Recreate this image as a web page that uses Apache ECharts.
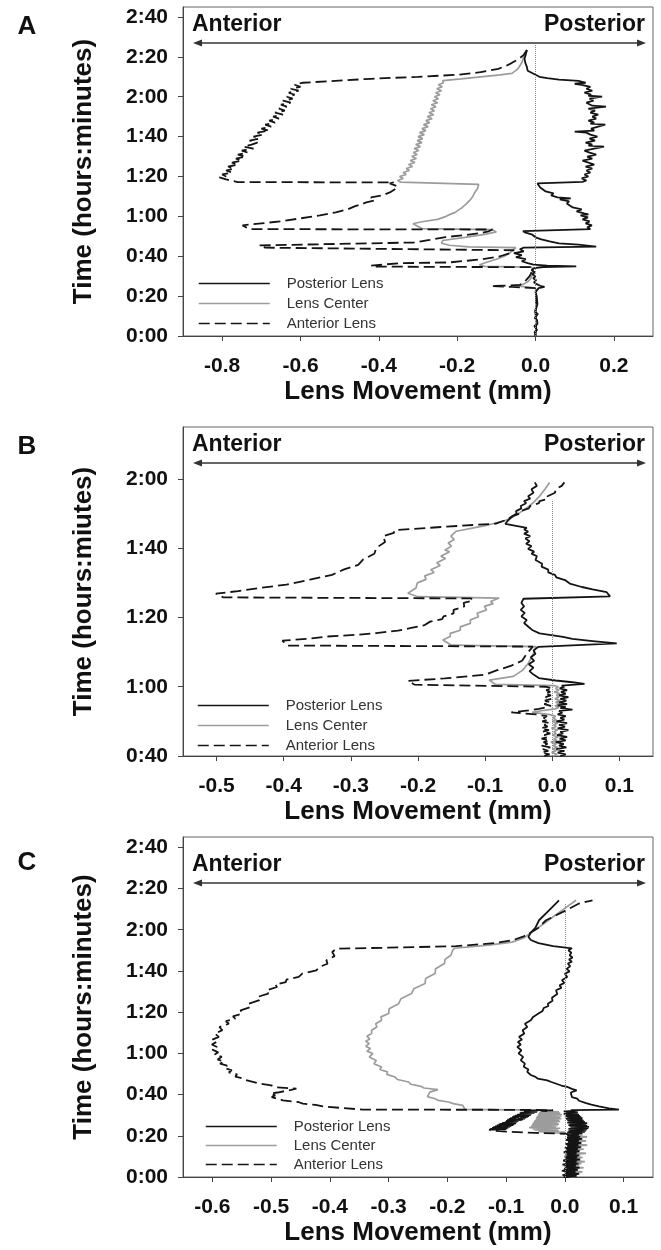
<!DOCTYPE html>
<html>
<head>
<meta charset="utf-8">
<script src="https://cdn.jsdelivr.net/npm/echarts@6/dist/echarts.min.js"></script>
<style>
html,body{margin:0;padding:0;background:#fff;}
#chart{width:661px;height:1250px;}
</style>
</head>
<body>
<div id="chart"></div>
<script>
// ---------- DATA (time in minutes, lens movement in mm) ----------
const seriesNames = ['Posterior Lens', 'Lens Center', 'Anterior Lens'];
const xTicksA = [-0.8, -0.6, -0.4, -0.2, 0, 0.2];
const xTicksB = [-0.5, -0.4, -0.3, -0.2, -0.1, 0, 0.1];
const xTicksC = [-0.6, -0.5, -0.4, -0.3, -0.2, -0.1, 0, 0.1];
const yTicksA = [0, 20, 40, 60, 80, 100, 120, 140, 160];
const yTicksB = [40, 60, 80, 100, 120];
const yTicksC = [0, 20, 40, 60, 80, 100, 120, 140, 160];

// Panel A  [time, movement]
const A_post = [[0,0.000],[1,0.003],[2,-0.002],[3,0.004],[4,0.001],[5,-0.003],[6,0.005],[7,0.000],[8,0.004],[9,-0.002],[10,0.003],[11,0.006],[12,-0.001],[13,0.004],[14,0.002],[15,-0.002],[16,0.005],[17,0.001],[18,0.004],[19,-0.001],[20,0.003],[21,0.005],[22,0.000],[23,0.004],[24,0.008],[24.6,0.023],[25.2,0.012],[26,0.003],[27,-0.004],[28,0.002],[29,-0.006],[30,0.000],[31,-0.008],[32,-0.002],[33,-0.010],[34,-0.004],[34.6,0.020],[34.9,0.104],[35.3,0.030],[35.8,-0.005],[36.5,-0.020],[37.5,-0.035],[38.5,-0.025],[39.5,-0.050],[40.5,-0.035],[41.5,-0.055],[42.5,-0.030],[43.5,-0.040],[44.3,-0.030],[44.8,0.155],[45.3,0.150],[45.8,0.110],[46.5,0.060],[47.4,0.036],[48.5,0.015],[49.5,0.000],[50.8,-0.008],[51.8,-0.025],[52.6,-0.032],[53.3,-0.036],[53.6,0.140],[54.5,0.132],[55.5,0.144],[56.5,0.128],[57.5,0.138],[58.5,0.120],[59.5,0.134],[60.5,0.115],[61,0.135],[61.5,0.124],[62.5,0.105],[63.5,0.118],[64.5,0.095],[65.5,0.100],[66.5,0.080],[67.5,0.086],[68.5,0.062],[69,0.090],[69.5,0.056],[70.5,0.040],[71.5,0.046],[72.5,0.026],[73.5,0.030],[74.5,0.012],[75.5,0.016],[76.5,0.005],[77.0,0.000],[77.3,0.120],[78,0.130],[79,0.118],[80,0.135],[81,0.125],[82,0.140],[83,0.130],[84,0.145],[85,0.128],[86,0.150],[87,0.135],[88,0.120],[89,0.145],[90,0.132],[91,0.155],[92,0.138],[93,0.125],[94,0.150],[95,0.175],[95.5,0.135],[96,0.145],[97,0.128],[98,0.152],[99,0.138],[100,0.158],[101,0.140],[102,0.130],[102.5,0.100],[103,0.150],[104,0.142],[105,0.160],[106,0.178],[106.5,0.140],[107,0.150],[108,0.135],[109,0.155],[110,0.145],[111,0.160],[112,0.140],[113,0.152],[114,0.135],[115,0.180],[115.5,0.145],[116,0.150],[117,0.130],[118,0.148],[119,0.138],[120,0.170],[120.5,0.135],[121,0.142],[122,0.125],[123,0.145],[124,0.130],[125,0.140],[126,0.118],[126.5,0.100],[127,0.128],[128,0.110],[128.6,0.060],[129.3,0.030],[130,0.010],[131,0.000],[132,-0.010],[133,-0.020],[135,-0.022],[137,-0.026],[139,-0.028],[141,-0.025],[143.4,-0.022]];
const A_center = [[0,0.000],[6,0.002],[12,0.000],[18,0.002],[24,0.000],[24.5,-0.020],[25.2,-0.050],[26,-0.030],[27.5,-0.018],[29,-0.012],[31,-0.008],[33,-0.006],[34.5,-0.010],[34.9,-0.130],[35.7,-0.143],[37,-0.125],[38.5,-0.100],[40,-0.080],[41.5,-0.066],[43,-0.058],[44.3,-0.050],[44.7,-0.170],[45.5,-0.220],[46.5,-0.240],[47.9,-0.237],[49.5,-0.180],[51,-0.130],[52.2,-0.100],[53.3,-0.110],[53.6,-0.115],[53.9,-0.290],[56.3,-0.313],[57.3,-0.290],[58.5,-0.250],[60,-0.228],[61,-0.218],[62,-0.205],[63,-0.198],[64,-0.190],[65,-0.185],[66,-0.178],[67,-0.176],[68,-0.168],[69,-0.166],[70,-0.160],[71,-0.158],[72,-0.155],[73,-0.152],[74,-0.148],[75,-0.150],[76,-0.145],[77,-0.148],[77.2,-0.345],[78,-0.352],[79,-0.338],[80,-0.347],[81,-0.330],[82,-0.338],[83,-0.322],[84,-0.330],[85,-0.314],[86,-0.324],[87,-0.308],[88,-0.320],[89,-0.304],[90,-0.316],[91,-0.302],[92,-0.312],[93,-0.298],[94,-0.310],[95,-0.294],[96,-0.306],[97,-0.290],[98,-0.302],[99,-0.288],[100,-0.300],[101,-0.284],[102,-0.296],[103,-0.280],[104,-0.290],[105,-0.274],[106,-0.286],[107,-0.270],[108,-0.280],[109,-0.264],[110,-0.276],[111,-0.260],[112,-0.272],[113,-0.258],[114,-0.268],[115,-0.254],[116,-0.266],[117,-0.250],[118,-0.262],[119,-0.248],[120,-0.258],[121,-0.244],[122,-0.255],[123,-0.240],[124,-0.252],[125,-0.238],[126,-0.248],[127,-0.235],[128.1,-0.237],[129,-0.190],[130,-0.140],[131,-0.090],[131.7,-0.060],[134,-0.045],[137,-0.035],[140,-0.030],[143.4,-0.022]];
const A_ant = [[0,0.000],[6,0.002],[12,0.000],[18,0.002],[24,0.001],[24.6,-0.060],[25.0,-0.113],[25.6,-0.040],[27,-0.030],[28,-0.024],[30,-0.015],[31.5,-0.011],[33,-0.010],[34.5,-0.012],[34.8,-0.410],[35.3,-0.420],[36.5,-0.347],[36.9,-0.220],[38.5,-0.135],[40,-0.090],[41.5,-0.066],[43,-0.055],[44.0,-0.050],[44.3,-0.690],[45.4,-0.705],[46.2,-0.500],[46.9,-0.310],[48.2,-0.270],[49.6,-0.230],[50.6,-0.180],[51.6,-0.140],[52.5,-0.120],[53.4,-0.110],[53.6,-0.730],[55.5,-0.748],[56.5,-0.700],[57.5,-0.650],[59,-0.600],[60.5,-0.550],[62,-0.510],[63.5,-0.480],[65,-0.462],[66,-0.445],[67,-0.432],[68,-0.410],[69.5,-0.420],[70.5,-0.392],[72,-0.372],[73.5,-0.360],[75,-0.352],[76.5,-0.372],[77,-0.362],[77.2,-0.760],[78.5,-0.790],[79.5,-0.807],[80,-0.790],[81,-0.800],[82,-0.775],[83,-0.790],[84,-0.770],[85,-0.785],[86,-0.760],[87,-0.775],[88,-0.750],[89,-0.765],[90,-0.740],[91,-0.760],[92,-0.735],[93,-0.750],[94,-0.720],[95,-0.745],[96,-0.725],[97,-0.710],[98,-0.730],[99,-0.705],[100,-0.720],[101,-0.695],[102,-0.710],[103,-0.680],[104,-0.700],[105,-0.675],[106,-0.690],[107,-0.665],[108,-0.680],[109,-0.655],[110,-0.670],[111,-0.645],[112,-0.665],[113,-0.640],[114,-0.655],[115,-0.635],[116,-0.650],[117,-0.625],[118,-0.645],[119,-0.620],[120,-0.635],[121,-0.615],[122,-0.630],[123,-0.605],[124,-0.625],[125,-0.600],[126,-0.615],[127,-0.595],[128,-0.600],[129,-0.420],[130,-0.300],[131,-0.200],[132.3,-0.140],[134,-0.095],[135.5,-0.075],[137,-0.060],[139,-0.042],[141,-0.030],[143.4,-0.022]];

// Panel B
const B_post = [[40,0.012],[40.5,0.020],[41,0.008],[41.5,0.018],[42,0.006],[42.5,0.021],[43,0.010],[43.5,0.017],[44,0.005],[44.5,0.020],[45,0.011],[45.5,0.022],[46,0.007],[46.5,0.016],[47,0.012],[47.5,0.024],[48,0.008],[48.5,0.019],[49,0.010],[49.5,0.022],[50,0.006],[50.5,0.018],[51,0.012],[51.5,0.020],[52,0.008],[52.5,0.015],[53,0.010],[53.4,0.030],[53.8,0.012],[54.2,0.020],[54.6,0.008],[55,0.022],[55.5,0.010],[56,0.021],[56.5,0.012],[57,0.024],[57.5,0.010],[58,0.020],[58.5,0.013],[59,0.022],[59.5,0.011],[60,0.018],[60.3,0.014],[60.8,0.048],[61.3,0.030],[61.8,0.005],[62.5,-0.020],[63.5,-0.028],[64.5,-0.034],[65.5,-0.028],[66.5,-0.035],[67.5,-0.027],[68.5,-0.032],[69.5,-0.025],[70.5,-0.028],[71.5,-0.021],[72.5,0.096],[73.2,0.060],[73.8,0.030],[74.4,0.016],[75.4,-0.019],[76.4,-0.030],[77.4,-0.036],[78.4,-0.042],[79.3,-0.038],[80.3,-0.046],[81.3,-0.041],[82.2,-0.047],[83.2,-0.042],[84.2,-0.046],[85.4,-0.043],[86.1,0.086],[87.3,0.081],[88.1,0.060],[88.8,0.044],[89.8,0.026],[90.8,0.019],[91.6,0.006],[92.3,0.004],[93,-0.006],[93.8,-0.006],[94.7,-0.016],[95.5,-0.015],[96.6,-0.025],[97.7,-0.023],[98.4,-0.031],[99,-0.027],[99.8,-0.036],[100.6,-0.031],[101.3,-0.039],[102,-0.034],[102.8,-0.040],[103.5,-0.033],[104.2,-0.042],[104.8,-0.036],[105.4,-0.042],[105.9,-0.038],[107,-0.070],[108,-0.066],[109.3,-0.059],[110,-0.053],[110.7,-0.054],[111.5,-0.046],[112.2,-0.047],[113,-0.039],[113.6,-0.042],[114.3,-0.033],[115,-0.036],[116,-0.028],[117,-0.031],[118,-0.023],[119,-0.026]];
const B_center = [[40,0.002],[40.5,0.007],[41,-0.001],[41.5,0.006],[42,0.000],[42.5,0.008],[43,0.001],[43.5,0.006],[44,-0.002],[44.5,0.007],[45,0.002],[45.5,0.009],[46,0.000],[46.5,0.006],[47,0.002],[47.5,0.008],[48,-0.001],[48.5,0.006],[49,0.002],[49.5,0.008],[50,0.000],[50.5,0.006],[51,0.001],[51.5,0.005],[52,-0.006],[52.6,-0.030],[53.2,-0.012],[53.6,0.004],[54,0.010],[54.5,0.004],[55,0.011],[55.5,0.005],[56,0.012],[56.5,0.004],[57,0.010],[57.5,0.006],[58,0.011],[58.5,0.003],[59,0.010],[59.5,0.005],[60,0.009],[60.3,0.004],[60.7,-0.085],[61.9,-0.094],[63,-0.058],[64.8,-0.044],[66.7,-0.036],[69.6,-0.028],[71.6,-0.024],[72,-0.150],[73.5,-0.163],[74.5,-0.152],[75.4,-0.152],[76.3,-0.137],[77.3,-0.137],[78.3,-0.122],[79.3,-0.122],[80.2,-0.110],[81.2,-0.112],[82.2,-0.098],[83.2,-0.101],[84,-0.088],[84.6,-0.092],[85.6,-0.079],[86,-0.200],[87,-0.215],[88.5,-0.203],[90,-0.201],[91,-0.188],[92,-0.190],[93,-0.176],[93.8,-0.181],[95,-0.167],[95.8,-0.172],[97,-0.159],[97.7,-0.166],[99,-0.153],[99.5,-0.160],[100.6,-0.150],[101.5,-0.155],[102.5,-0.146],[103.5,-0.151],[104.9,-0.143],[106.5,-0.100],[108,-0.070],[109.3,-0.056],[110.7,-0.045],[112.2,-0.034],[113.6,-0.026],[115,-0.019],[117,-0.011],[119,-0.004]];
const B_ant = [[40,-0.012],[40.5,-0.004],[41,-0.016],[41.5,-0.006],[42,-0.014],[42.5,-0.003],[43,-0.017],[43.5,-0.007],[44,-0.013],[44.5,-0.004],[45,-0.016],[45.5,-0.006],[46,-0.012],[46.5,-0.003],[47,-0.015],[47.5,-0.005],[48,-0.017],[48.5,-0.007],[49,-0.012],[49.5,-0.004],[50,-0.015],[50.5,-0.006],[51,-0.013],[51.5,-0.008],[52,-0.024],[52.6,-0.061],[53.2,-0.035],[53.6,-0.020],[54,-0.010],[54.5,-0.002],[55,-0.012],[55.5,-0.003],[56,-0.011],[56.5,-0.001],[57,-0.010],[57.5,-0.002],[58,-0.011],[58.5,-0.003],[59,-0.009],[59.5,0.000],[60,-0.010],[60.2,-0.012],[60.6,-0.205],[61.7,-0.215],[62.4,-0.160],[63.5,-0.100],[64.8,-0.082],[66,-0.062],[67.5,-0.045],[69.5,-0.038],[71.6,-0.029],[71.9,-0.395],[73.3,-0.402],[73.9,-0.362],[74.5,-0.336],[75,-0.290],[75.5,-0.262],[76.2,-0.230],[76.9,-0.212],[77.8,-0.190],[78.8,-0.182],[79.5,-0.164],[80.3,-0.162],[81.2,-0.147],[82.2,-0.147],[83.2,-0.131],[84.2,-0.132],[84.9,-0.118],[85.5,-0.121],[85.8,-0.490],[86.9,-0.501],[87.6,-0.468],[88.5,-0.436],[89.5,-0.396],[90.9,-0.361],[92.3,-0.328],[93.8,-0.311],[95.2,-0.289],[96.7,-0.282],[98.4,-0.265],[100.1,-0.262],[101.8,-0.249],[103.5,-0.252],[104.4,-0.236],[105.2,-0.235],[106.2,-0.160],[107.1,-0.084],[108.2,-0.068],[109.3,-0.059],[110,-0.048],[110.7,-0.047],[111.5,-0.035],[112.2,-0.033],[113,-0.020],[113.6,-0.019],[114.3,-0.006],[115,-0.007],[116,0.004],[117,0.005],[118,0.014],[119,0.018]];

// Panel C
const C_post = [[0,0.002],[0.5,0.020],[1,-0.002],[1.5,0.024],[2,0.004],[2.5,0.018],[3,-0.003],[3.5,0.022],[4,0.003],[4.5,0.025],[5,0.000],[5.5,0.019],[6,-0.002],[6.5,0.023],[7,0.004],[7.5,0.020],[8,-0.001],[8.5,0.026],[9,0.003],[9.5,0.021],[10,0.000],[10.5,0.024],[11,0.004],[11.5,0.020],[12,-0.002],[12.5,0.025],[13,0.005],[13.5,0.022],[14,0.001],[14.5,0.027],[15,0.004],[15.5,0.023],[16,0.002],[16.5,0.028],[17,0.006],[17.5,0.024],[18,0.003],[18.5,0.029],[19,0.006],[19.5,0.026],[20,0.004],[20.5,0.024],[21,0.008],[21.3,0.030],[21.6,0.004],[21.9,0.034],[22.2,0.006],[22.5,0.036],[22.8,0.008],[23.1,0.038],[23.4,0.006],[23.7,0.040],[24,0.010],[24.3,0.041],[24.6,0.008],[24.9,0.038],[25.2,0.006],[25.5,0.036],[25.8,0.008],[26.1,0.038],[26.4,0.004],[26.7,0.034],[27,0.006],[27.3,0.032],[27.6,0.004],[27.9,0.030],[28.2,0.002],[28.5,0.030],[28.8,0.004],[29.1,0.028],[29.4,0.000],[29.7,0.026],[30,0.002],[30.3,0.024],[30.6,-0.002],[30.9,0.022],[31.2,0.000],[31.5,0.022],[31.8,-0.002],[32.1,0.018],[32.5,0.010],[32.7,0.092],[33.3,0.075],[34.3,0.058],[35.1,0.045],[35.9,0.036],[37,0.024],[38,0.021],[38.8,0.012],[39.6,0.012],[41,0.010],[42,0.020],[42.8,0.012],[43.7,0.004],[44.4,-0.006],[45,-0.008],[46.1,-0.023],[46.9,-0.030],[47.7,-0.046],[48.6,-0.050],[49.5,-0.058],[50.3,-0.057],[51,-0.064],[52.2,-0.062],[53.5,-0.070],[55,-0.068],[56.6,-0.075],[58.3,-0.071],[60,-0.079],[61.5,-0.074],[63.1,-0.081],[64.3,-0.075],[65.5,-0.080],[66.7,-0.073],[68,-0.078],[69.6,-0.069],[71.2,-0.072],[72.8,-0.064],[74.4,-0.068],[76.1,-0.058],[77.7,-0.054],[79.3,-0.045],[80.6,-0.038],[82,-0.036],[83,-0.028],[84.1,-0.029],[85.5,-0.021],[87,-0.022],[88.8,-0.013],[90.6,-0.015],[91.8,-0.006],[93,-0.009],[94.2,-0.001],[95.5,-0.005],[97.1,0.004],[98.7,0.000],[99.8,0.008],[101,0.003],[102.3,0.009],[103.6,0.005],[104.5,0.012],[105.5,0.007],[106.5,0.013],[107.6,0.008],[108.8,0.011],[110,0.006],[111,0.012],[112,-0.020],[113.5,-0.045],[115,-0.058],[116.5,-0.062],[118.6,-0.058],[121,-0.050],[124.6,-0.044],[129.4,-0.027],[134.3,-0.010]];
const C_center = [[0,0.010],[0.5,0.020],[1,0.008],[1.5,0.025],[2,0.012],[2.5,0.030],[3,0.010],[3.5,0.022],[4,0.014],[4.5,0.032],[5,0.012],[5.5,0.024],[6,0.008],[6.5,0.028],[7,0.014],[7.5,0.034],[8,0.012],[8.5,0.022],[9,0.016],[9.5,0.030],[10,0.010],[10.5,0.026],[11,0.014],[11.5,0.036],[12,0.012],[12.5,0.024],[13,0.016],[13.5,0.032],[14,0.012],[14.5,0.028],[15,0.016],[15.5,0.038],[16,0.014],[16.5,0.026],[17,0.018],[17.5,0.036],[18,0.014],[18.5,0.030],[19,0.016],[19.5,0.038],[20,0.015],[20.5,0.030],[21,0.012],[21.5,-0.020],[21.8,0.000],[22,-0.045],[22.3,-0.010],[22.5,-0.030],[22.8,-0.052],[23,-0.012],[23.3,-0.055],[23.6,-0.008],[24,-0.061],[24.3,-0.015],[24.6,-0.058],[25,-0.012],[25.3,-0.056],[25.6,-0.010],[26,-0.055],[26.3,-0.012],[26.6,-0.053],[27,-0.008],[27.3,-0.052],[27.6,-0.010],[28,-0.050],[28.3,-0.006],[28.6,-0.049],[29,-0.008],[29.3,-0.048],[29.6,-0.006],[30,-0.046],[30.3,-0.005],[30.6,-0.045],[31,-0.008],[31.3,-0.044],[31.6,-0.010],[32,-0.042],[32.5,-0.030],[32.8,-0.170],[34.8,-0.174],[35.6,-0.190],[36.4,-0.198],[37.2,-0.216],[38,-0.221],[39,-0.234],[40,-0.232],[41.2,-0.230],[42.4,-0.216],[43.2,-0.240],[44,-0.245],[45,-0.262],[46.1,-0.266],[47.3,-0.285],[48.5,-0.289],[49.8,-0.303],[51,-0.302],[52.2,-0.315],[53.4,-0.312],[55,-0.325],[56.5,-0.321],[58.2,-0.333],[59.9,-0.327],[61.1,-0.337],[62.3,-0.331],[63.5,-0.339],[64.7,-0.333],[65.9,-0.339],[67,-0.332],[68.3,-0.337],[69.6,-0.329],[71.2,-0.329],[72.8,-0.320],[74.4,-0.322],[76.1,-0.312],[77.7,-0.313],[79.3,-0.300],[81.7,-0.299],[84.1,-0.283],[86.5,-0.279],[89,-0.261],[91.4,-0.257],[93.9,-0.238],[96.3,-0.237],[98.7,-0.221],[101.1,-0.220],[103.6,-0.205],[105.6,-0.204],[107.6,-0.194],[110,-0.191],[111,-0.188],[112.5,-0.130],[114,-0.090],[116,-0.070],[118.6,-0.058],[121,-0.045],[124.6,-0.028],[129.4,-0.005],[134.3,0.019]];
const C_ant = [[0,-0.002],[0.5,0.006],[1,-0.004],[1.5,0.008],[2,0.000],[2.5,0.006],[3,-0.005],[3.5,0.005],[4,-0.002],[4.5,0.009],[5,0.000],[5.5,0.007],[6,-0.004],[6.5,0.006],[7,0.001],[7.5,0.009],[8,-0.003],[8.5,0.007],[9,0.002],[9.5,0.010],[10,-0.002],[10.5,0.008],[11,0.003],[11.5,0.010],[12,-0.001],[12.5,0.008],[13,0.003],[13.5,0.011],[14,0.000],[14.5,0.009],[15,0.004],[15.5,0.012],[16,0.001],[16.5,0.010],[17,0.005],[17.5,0.012],[18,0.002],[18.5,0.011],[19,0.004],[19.5,0.012],[20,0.003],[20.5,0.008],[21,0.000],[21.4,-0.050],[22,-0.100],[22.6,-0.125],[23,-0.129],[23.2,-0.100],[23.4,-0.127],[23.6,-0.098],[23.8,-0.124],[24.0,-0.096],[24.2,-0.122],[24.4,-0.093],[24.6,-0.119],[24.8,-0.091],[25.0,-0.116],[25.2,-0.088],[25.4,-0.113],[25.6,-0.086],[25.8,-0.111],[26.0,-0.083],[26.2,-0.108],[26.4,-0.081],[26.6,-0.106],[26.8,-0.078],[27.0,-0.103],[27.2,-0.076],[27.4,-0.100],[27.6,-0.073],[27.8,-0.098],[28.0,-0.071],[28.2,-0.095],[28.4,-0.068],[28.6,-0.093],[28.8,-0.066],[29.0,-0.090],[29.2,-0.063],[29.4,-0.088],[29.6,-0.061],[29.8,-0.085],[30.0,-0.058],[30.2,-0.083],[30.4,-0.056],[30.6,-0.080],[30.8,-0.053],[31.0,-0.078],[31.2,-0.050],[31.4,-0.075],[31.6,-0.045],[31.8,-0.072],[32.0,-0.030],[32.2,-0.070],[32.4,-0.020],[32.6,-0.060],[32.7,-0.344],[33.5,-0.380],[34.3,-0.412],[35,-0.424],[35.6,-0.446],[36.4,-0.454],[37.2,-0.480],[38,-0.483],[38.8,-0.499],[39.6,-0.493],[40.5,-0.501],[41,-0.489],[41.6,-0.488],[42.3,-0.466],[42.9,-0.457],[43.5,-0.492],[44.5,-0.500],[45.3,-0.519],[46.1,-0.521],[46.9,-0.541],[47.7,-0.546],[48.7,-0.561],[49.8,-0.558],[50.8,-0.572],[51.8,-0.567],[53,-0.580],[54,-0.575],[55,-0.587],[56,-0.580],[57,-0.591],[58.3,-0.584],[59.4,-0.596],[60.5,-0.590],[61.8,-0.600],[63.1,-0.592],[64.3,-0.601],[65.5,-0.593],[66.7,-0.600],[68,-0.589],[69.6,-0.596],[71.2,-0.583],[72.8,-0.588],[74.4,-0.572],[75.6,-0.577],[76.8,-0.561],[78,-0.565],[79.3,-0.549],[80.9,-0.552],[82.5,-0.535],[84.1,-0.538],[85.8,-0.520],[87.4,-0.523],[89,-0.505],[90.6,-0.508],[92.2,-0.490],[93.4,-0.493],[94.6,-0.475],[95.8,-0.474],[97.1,-0.453],[98.7,-0.447],[100.3,-0.423],[101.9,-0.418],[103.5,-0.404],[105.2,-0.406],[107.2,-0.392],[109.2,-0.396],[110.8,-0.389],[111.3,-0.300],[112,-0.185],[113.5,-0.120],[114.9,-0.089],[116.8,-0.070],[118.6,-0.058],[121,-0.045],[124.6,-0.032],[127,-0.015],[129.4,0.002],[132.7,0.024],[134.3,0.047]];

// ---------- CHART ----------
const FONT = '"Liberation Sans", Arial, Helvetica, sans-serif';
const toXY = arr => arr.map(p => [p[1], p[0]]);
const fmtTime = v => Math.floor(v / 60) + ':' + String(Math.round(v % 60)).padStart(2, '0');

const panels = [
  { letter: 'A', grid: { left: 183, top: 7, width: 470, height: 329 }, xMin: -0.9, xMax: 0.3, xTicks: xTicksA,
    yMin: 0, yMax: 165, yTicks: yTicksA, yName: 'Time (hours:minutes)', post: A_post, center: A_center, ant: A_ant,
    zeroTop: 146, arrowY: 43, textY: 25, letterY: 27, legendLeft: 193, legendTop: 271, legendGap: 5 },
  { letter: 'B', grid: { left: 183, top: 427, width: 470, height: 329 }, xMin: -0.55, xMax: 0.15, xTicks: xTicksB,
    yMin: 40, yMax: 135, yTicks: yTicksB, yName: 'Time (hours:miutes)', post: B_post, center: B_center, ant: B_ant,
    zeroTop: 114, arrowY: 463, textY: 445, letterY: 447, legendLeft: 192, legendTop: 693, legendGap: 5 },
  { letter: 'C', grid: { left: 183, top: 837, width: 470, height: 340 }, xMin: -0.65, xMax: 0.15, xTicks: xTicksC,
    yMin: 0, yMax: 165, yTicks: yTicksC, yName: 'Time (hours:minutes)', post: C_post, center: C_center, ant: C_ant,
    zeroTop: 133, arrowY: 883, textY: 865, letterY: 863, legendLeft: 200, legendTop: 1114, legendGap: 4 }
];

const grids = [], xAxes = [], yAxes = [], series = [], legends = [], graphics = [];
const AX = '#444';
panels.forEach((p, i) => {
  grids.push(Object.assign({ show: true, borderColor: '#666', borderWidth: 1, backgroundColor: 'transparent' }, p.grid));
  xAxes.push({
    gridIndex: i, type: 'value', min: p.xMin, max: p.xMax,
    axisLine: { show: true, onZero: false, lineStyle: { color: AX, width: 1 } },
    axisTick: { show: true, inside: false, length: 5, lineStyle: { color: AX }, customValues: p.xTicks },
    axisLabel: { customValues: p.xTicks, formatter: v => Number(v).toFixed(1), margin: 20,
      fontSize: 21, fontWeight: 'bold', fontFamily: FONT, color: '#111' },
    splitLine: { show: false },
    name: 'Lens Movement (mm)', nameLocation: 'middle', nameGap: 43,
    nameTextStyle: { fontSize: 26, fontWeight: 'bold', fontFamily: FONT, color: '#111' }
  });
  yAxes.push({
    gridIndex: i, type: 'value', min: p.yMin, max: p.yMax,
    axisLine: { show: true, onZero: false, lineStyle: { color: AX, width: 1 } },
    axisTick: { show: true, inside: false, length: 5, lineStyle: { color: AX }, customValues: p.yTicks },
    axisLabel: { customValues: p.yTicks, formatter: fmtTime, margin: 15,
      fontSize: 21, fontWeight: 'bold', fontFamily: FONT, color: '#111' },
    splitLine: { show: false },
    name: p.yName, nameLocation: 'middle', nameGap: 86,
    nameTextStyle: { fontSize: 26, fontWeight: 'bold', fontFamily: FONT, color: '#111' }
  });
  const common = { type: 'line', xAxisIndex: i, yAxisIndex: i, showSymbol: false, symbol: 'none',
    animation: false, silent: true, emphasis: { disabled: true }, clip: true };
  series.push(Object.assign({}, common, { name: 'Lens Center', data: toXY(p.center), z: 2,
    lineStyle: { color: '#9c9c9c', width: 1.7 }, itemStyle: { color: '#9c9c9c' } }));
  series.push(Object.assign({}, common, { name: 'Anterior Lens', data: toXY(p.ant), z: 3,
    lineStyle: { color: '#141414', width: 1.8, type: [11, 5] }, itemStyle: { color: '#141414' } }));
  series.push(Object.assign({}, common, { name: 'Posterior Lens', data: toXY(p.post), z: 4,
    lineStyle: { color: '#141414', width: 1.8 }, itemStyle: { color: '#141414' },
    markLine: { silent: true, symbol: ['none', 'none'], animation: false, label: { show: false },
      lineStyle: { type: 'dotted', color: '#888', width: 1 },
      data: [[{ coord: [0, p.yMin] }, { coord: [0, p.zeroTop] }]] } }));
  legends.push({
    data: seriesNames, orient: 'vertical', left: p.legendLeft, top: p.legendTop,
    itemWidth: 71, itemHeight: 14, itemGap: p.legendGap, selectedMode: false,
    itemStyle: { opacity: 0, borderWidth: 0 },
    lineStyle: { width: 1.5 },
    textStyle: { fontSize: 15, fontFamily: FONT, color: '#333', padding: [0, 0, 0, 12] }
  });
  graphics.push({ type: 'text', x: 27, y: p.letterY, silent: true,
    style: { text: p.letter, font: 'bold 26px ' + FONT, fill: '#111', align: 'center', verticalAlign: 'middle' } });
  graphics.push({ type: 'text', x: 192, y: p.textY, silent: true,
    style: { text: 'Anterior', font: 'bold 23px ' + FONT, fill: '#111', align: 'left', verticalAlign: 'middle' } });
  graphics.push({ type: 'text', x: 645, y: p.textY, silent: true,
    style: { text: 'Posterior', font: 'bold 23px ' + FONT, fill: '#111', align: 'right', verticalAlign: 'middle' } });
  const x1 = 193, x2 = 646, y = p.arrowY;
  graphics.push({ type: 'line', silent: true, shape: { x1: x1 + 4, y1: y, x2: x2 - 4, y2: y }, style: { stroke: '#333', lineWidth: 1.5 } });
  graphics.push({ type: 'polygon', silent: true, shape: { points: [[x1, y], [x1 + 9, y - 3.5], [x1 + 9, y + 3.5]] }, style: { fill: '#333' } });
  graphics.push({ type: 'polygon', silent: true, shape: { points: [[x2, y], [x2 - 9, y - 3.5], [x2 - 9, y + 3.5]] }, style: { fill: '#333' } });
});

const chart = echarts.init(document.getElementById('chart'), null, { renderer: 'canvas' });
chart.setOption({
  backgroundColor: '#fff',
  animation: false,
  textStyle: { fontFamily: FONT },
  grid: grids, xAxis: xAxes, yAxis: yAxes, series: series, legend: legends, graphic: graphics
});
</script>
</body>
</html>
